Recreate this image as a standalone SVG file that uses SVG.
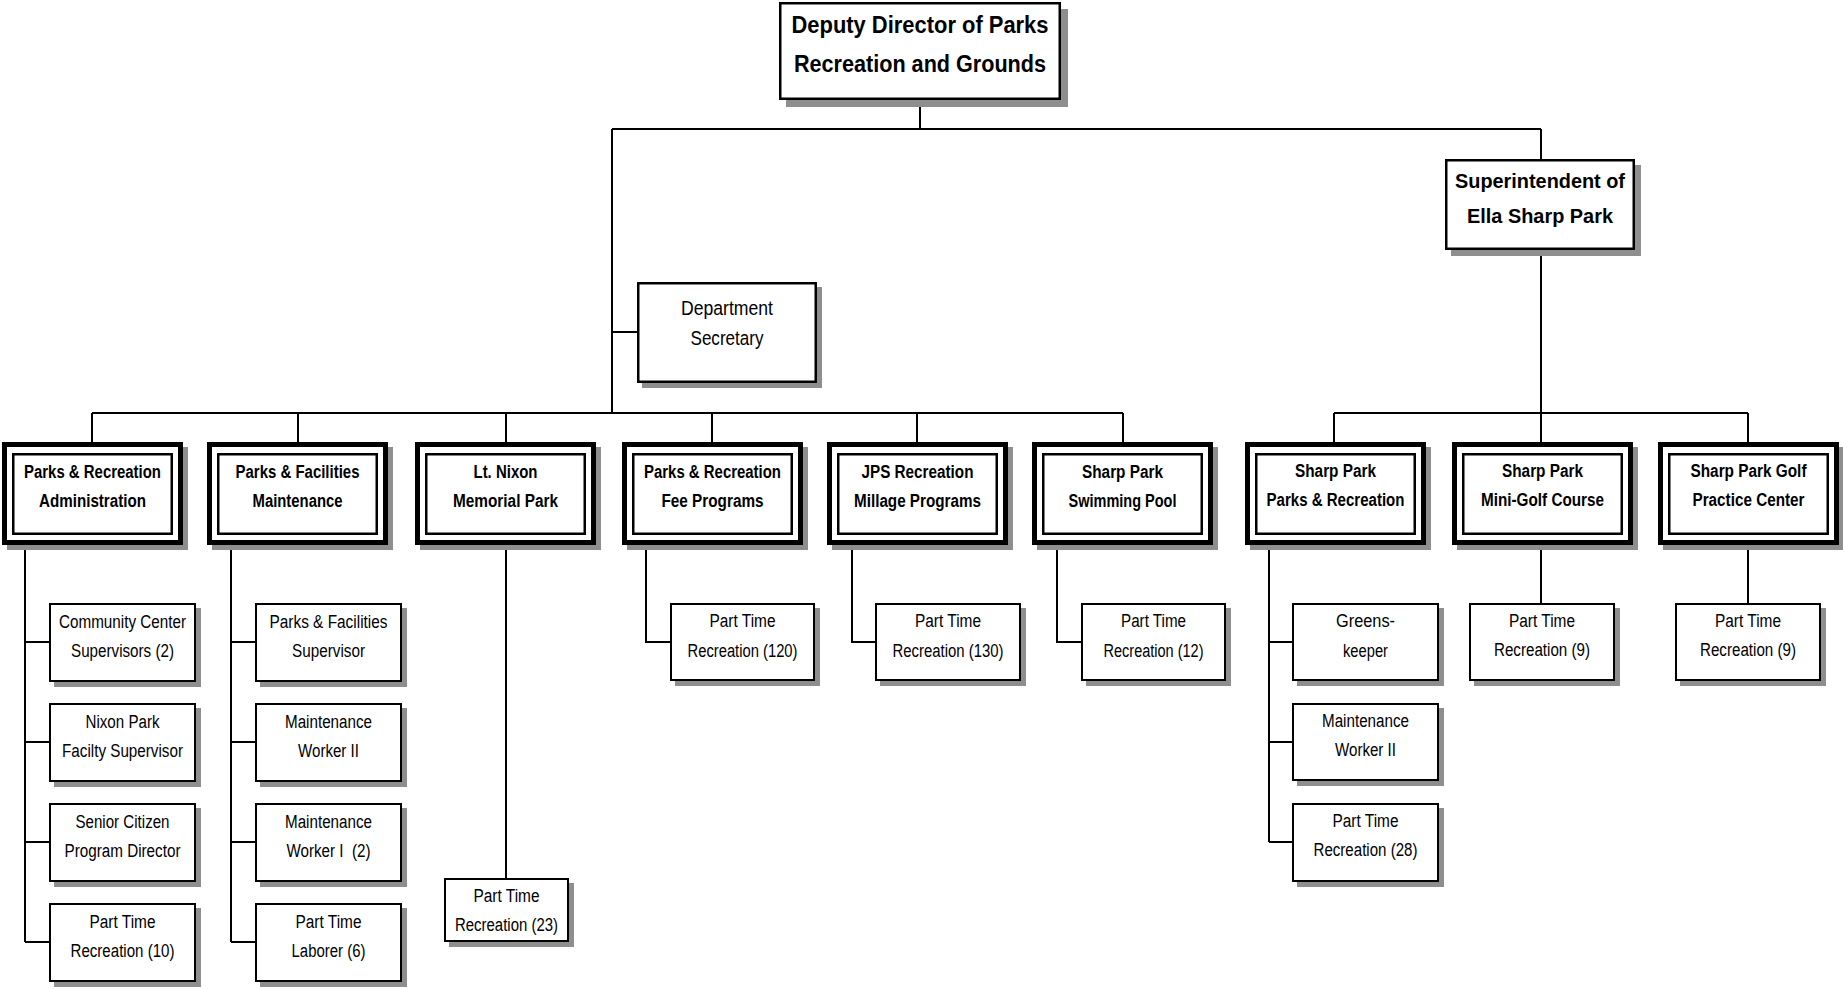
<svg xmlns="http://www.w3.org/2000/svg" width="1843" height="989" viewBox="0 0 1843 989">
<style>
.bg{fill:#fff}
.sh{fill:#8e8e8e}
.bx{fill:#fff;stroke:#000;stroke-width:2}
.bx3{fill:#fff;stroke:#000;stroke-width:2.5}
.o2{fill:#fff;stroke:#000;stroke-width:5}
.i2{fill:none;stroke:#000;stroke-width:2.5}
.c{fill:none;stroke:#000;stroke-width:2}
text{font-family:"Liberation Sans",Arial,sans-serif;text-anchor:middle;fill:#000}
.t{font-size:18px}
.tb{font-size:18px;font-weight:bold}
.th{font-size:23px;font-weight:bold}
.ts{font-size:21px;font-weight:bold}
.td{font-size:20.5px}
</style>
<rect class="bg" x="0" y="0" width="1843" height="989"/>
<g id="connectors">
<path class="c" d="M920 100V129M612 129H1541M1541 129V159M612 129V413M612 332H637"/>
<path class="c" d="M92 413H1123M92 413V442M298 413V442M506 413V442M712 413V442M917 413V442M1123 413V442"/>
<path class="c" d="M1541 250V413M1334 413H1748M1334 413V442M1541 413V442M1748 413V442"/>
<path class="c" d="M25 545V942M25 642H49M25 742H49M25 842H49M25 942H49"/>
<path class="c" d="M231 545V942M231 642H255M231 742H255M231 842H255M231 942H255"/>
<path class="c" d="M506 545V878"/>
<path class="c" d="M646 545V642H670M852 545V642H875M1057 545V642H1081"/>
<path class="c" d="M1269 545V842M1269 642H1292M1269 742H1292M1269 842H1292"/>
<path class="c" d="M1541 545V603M1748 545V603"/>
</g>
<g id="deputy">
<rect class="sh" x="786" y="9" width="282" height="98"/>
<rect class="bx3" x="780.25" y="3.25" width="279.5" height="95.5"/>
<text class="th" x="920" y="33" textLength="257" lengthAdjust="spacingAndGlyphs">Deputy Director of Parks</text>
<text class="th" x="920" y="72" textLength="252" lengthAdjust="spacingAndGlyphs">Recreation and Grounds</text>
</g>
<g id="superintendent">
<rect class="sh" x="1451" y="165" width="190" height="91"/>
<rect class="bx3" x="1446.25" y="160.25" width="187.5" height="88.5"/>
<text class="ts" x="1540" y="188" textLength="170" lengthAdjust="spacingAndGlyphs">Superintendent of</text>
<text class="ts" x="1540" y="223" textLength="146" lengthAdjust="spacingAndGlyphs">Ella Sharp Park</text>
</g>
<g id="secretary">
<rect class="sh" x="642" y="287" width="180" height="101"/>
<rect class="bx3" x="638.25" y="283.25" width="177.5" height="98.5"/>
<text class="td" x="727" y="315" textLength="92" lengthAdjust="spacingAndGlyphs">Department</text>
<text class="td" x="727" y="345" textLength="73" lengthAdjust="spacingAndGlyphs">Secretary</text>
</g>
<!-- level 2 -->
<g id="admin">
<rect class="sh" x="7" y="447" width="181" height="103"/>
<rect class="o2" x="4.5" y="444.5" width="176" height="98"/>
<rect class="i2" x="13.25" y="454.25" width="158.5" height="79.5"/>
<text class="tb" x="92.5" y="478" textLength="137" lengthAdjust="spacingAndGlyphs">Parks &amp; Recreation</text>
<text class="tb" x="92.5" y="507" textLength="107" lengthAdjust="spacingAndGlyphs">Administration</text>
</g>
<g id="maint">
<rect class="sh" x="212" y="447" width="181" height="103"/>
<rect class="o2" x="209.5" y="444.5" width="176" height="98"/>
<rect class="i2" x="218.25" y="454.25" width="158.5" height="79.5"/>
<text class="tb" x="297.5" y="478" textLength="124" lengthAdjust="spacingAndGlyphs">Parks &amp; Facilities</text>
<text class="tb" x="297.5" y="507" textLength="90" lengthAdjust="spacingAndGlyphs">Maintenance</text>
</g>
<g id="nixon">
<rect class="sh" x="420" y="447" width="181" height="103"/>
<rect class="o2" x="417.5" y="444.5" width="176" height="98"/>
<rect class="i2" x="426.25" y="454.25" width="158.5" height="79.5"/>
<text class="tb" x="505.5" y="478" textLength="64" lengthAdjust="spacingAndGlyphs">Lt. Nixon</text>
<text class="tb" x="505.5" y="507" textLength="105" lengthAdjust="spacingAndGlyphs">Memorial Park</text>
</g>
<g id="fee">
<rect class="sh" x="627" y="447" width="181" height="103"/>
<rect class="o2" x="624.5" y="444.5" width="176" height="98"/>
<rect class="i2" x="633.25" y="454.25" width="158.5" height="79.5"/>
<text class="tb" x="712.5" y="478" textLength="137" lengthAdjust="spacingAndGlyphs">Parks &amp; Recreation</text>
<text class="tb" x="712.5" y="507" textLength="102" lengthAdjust="spacingAndGlyphs">Fee Programs</text>
</g>
<g id="jps">
<rect class="sh" x="832" y="447" width="181" height="103"/>
<rect class="o2" x="829.5" y="444.5" width="176" height="98"/>
<rect class="i2" x="838.25" y="454.25" width="158.5" height="79.5"/>
<text class="tb" x="917.5" y="478" textLength="112" lengthAdjust="spacingAndGlyphs">JPS Recreation</text>
<text class="tb" x="917.5" y="507" textLength="127" lengthAdjust="spacingAndGlyphs">Millage Programs</text>
</g>
<g id="pool">
<rect class="sh" x="1037" y="447" width="181" height="103"/>
<rect class="o2" x="1034.5" y="444.5" width="176" height="98"/>
<rect class="i2" x="1043.25" y="454.25" width="158.5" height="79.5"/>
<text class="tb" x="1122.5" y="478" textLength="81" lengthAdjust="spacingAndGlyphs">Sharp Park</text>
<text class="tb" x="1122.5" y="507" textLength="108" lengthAdjust="spacingAndGlyphs">Swimming Pool</text>
</g>
<g id="sprec">
<rect class="sh" x="1250" y="447" width="181" height="103"/>
<rect class="o2" x="1247.5" y="444.5" width="176" height="98"/>
<rect class="i2" x="1256.25" y="454.25" width="158.5" height="79.5"/>
<text class="tb" x="1335.5" y="477" textLength="81" lengthAdjust="spacingAndGlyphs">Sharp Park</text>
<text class="tb" x="1335.5" y="506" textLength="138" lengthAdjust="spacingAndGlyphs">Parks &amp; Recreation</text>
</g>
<g id="minigolf">
<rect class="sh" x="1457" y="447" width="181" height="103"/>
<rect class="o2" x="1454.5" y="444.5" width="176" height="98"/>
<rect class="i2" x="1463.25" y="454.25" width="158.5" height="79.5"/>
<text class="tb" x="1542.5" y="477" textLength="81" lengthAdjust="spacingAndGlyphs">Sharp Park</text>
<text class="tb" x="1542.5" y="506" textLength="123" lengthAdjust="spacingAndGlyphs">Mini-Golf Course</text>
</g>
<g id="golf">
<rect class="sh" x="1663" y="447" width="181" height="103"/>
<rect class="o2" x="1660.5" y="444.5" width="176" height="98"/>
<rect class="i2" x="1669.25" y="454.25" width="158.5" height="79.5"/>
<text class="tb" x="1748.5" y="477" textLength="116" lengthAdjust="spacingAndGlyphs">Sharp Park Golf</text>
<text class="tb" x="1748.5" y="506" textLength="112" lengthAdjust="spacingAndGlyphs">Practice Center</text>
</g>
<!-- level 3: admin column -->
<g id="community">
<rect class="sh" x="54" y="608" width="147" height="79"/>
<rect class="bx" x="50" y="604" width="145" height="77"/>
<text class="t" x="122.5" y="628" textLength="127" lengthAdjust="spacingAndGlyphs">Community Center</text>
<text class="t" x="122.5" y="657" textLength="103" lengthAdjust="spacingAndGlyphs">Supervisors (2)</text>
</g>
<g id="nixonsup">
<rect class="sh" x="54" y="708" width="147" height="79"/>
<rect class="bx" x="50" y="704" width="145" height="77"/>
<text class="t" x="122.5" y="728" textLength="74" lengthAdjust="spacingAndGlyphs">Nixon Park</text>
<text class="t" x="122.5" y="757" textLength="121" lengthAdjust="spacingAndGlyphs">Facilty Supervisor</text>
</g>
<g id="senior">
<rect class="sh" x="54" y="808" width="147" height="79"/>
<rect class="bx" x="50" y="804" width="145" height="77"/>
<text class="t" x="122.5" y="828" textLength="94" lengthAdjust="spacingAndGlyphs">Senior Citizen</text>
<text class="t" x="122.5" y="857" textLength="116" lengthAdjust="spacingAndGlyphs">Program Director</text>
</g>
<g id="pt10">
<rect class="sh" x="54" y="908" width="147" height="79"/>
<rect class="bx" x="50" y="904" width="145" height="77"/>
<text class="t" x="122.5" y="928" textLength="66" lengthAdjust="spacingAndGlyphs">Part Time</text>
<text class="t" x="122.5" y="957" textLength="104" lengthAdjust="spacingAndGlyphs">Recreation (10)</text>
</g>
<!-- maintenance column -->
<g id="pfsup">
<rect class="sh" x="260" y="608" width="147" height="79"/>
<rect class="bx" x="256" y="604" width="145" height="77"/>
<text class="t" x="328.5" y="628" textLength="118" lengthAdjust="spacingAndGlyphs">Parks &amp; Facilities</text>
<text class="t" x="328.5" y="657" textLength="73" lengthAdjust="spacingAndGlyphs">Supervisor</text>
</g>
<g id="mw2">
<rect class="sh" x="260" y="708" width="147" height="79"/>
<rect class="bx" x="256" y="704" width="145" height="77"/>
<text class="t" x="328.5" y="728" textLength="87" lengthAdjust="spacingAndGlyphs">Maintenance</text>
<text class="t" x="328.5" y="757" textLength="61" lengthAdjust="spacingAndGlyphs">Worker II</text>
</g>
<g id="mw1">
<rect class="sh" x="260" y="808" width="147" height="79"/>
<rect class="bx" x="256" y="804" width="145" height="77"/>
<text class="t" x="328.5" y="828" textLength="87" lengthAdjust="spacingAndGlyphs">Maintenance</text>
<text class="t" x="328.5" y="857" textLength="84" lengthAdjust="spacingAndGlyphs" xml:space="preserve">Worker I  (2)</text>
</g>
<g id="laborer">
<rect class="sh" x="260" y="908" width="147" height="79"/>
<rect class="bx" x="256" y="904" width="145" height="77"/>
<text class="t" x="328.5" y="928" textLength="66" lengthAdjust="spacingAndGlyphs">Part Time</text>
<text class="t" x="328.5" y="957" textLength="74" lengthAdjust="spacingAndGlyphs">Laborer (6)</text>
</g>
<g id="pt23">
<rect class="sh" x="449" y="883" width="125" height="64"/>
<rect class="bx" x="445" y="879" width="123" height="62"/>
<text class="t" x="506.5" y="902" textLength="66" lengthAdjust="spacingAndGlyphs">Part Time</text>
<text class="t" x="506.5" y="931" textLength="103" lengthAdjust="spacingAndGlyphs">Recreation (23)</text>
</g>
<g id="pt120">
<rect class="sh" x="675" y="608" width="145" height="78"/>
<rect class="bx" x="671" y="604" width="143" height="76"/>
<text class="t" x="742.5" y="627" textLength="66" lengthAdjust="spacingAndGlyphs">Part Time</text>
<text class="t" x="742.5" y="657" textLength="110" lengthAdjust="spacingAndGlyphs">Recreation (120)</text>
</g>
<g id="pt130">
<rect class="sh" x="880" y="608" width="146" height="78"/>
<rect class="bx" x="876" y="604" width="144" height="76"/>
<text class="t" x="948" y="627" textLength="66" lengthAdjust="spacingAndGlyphs">Part Time</text>
<text class="t" x="948" y="657" textLength="111" lengthAdjust="spacingAndGlyphs">Recreation (130)</text>
</g>
<g id="pt12">
<rect class="sh" x="1086" y="608" width="145" height="78"/>
<rect class="bx" x="1082" y="604" width="143" height="76"/>
<text class="t" x="1153.5" y="627" textLength="65" lengthAdjust="spacingAndGlyphs">Part Time</text>
<text class="t" x="1153.5" y="657" textLength="100" lengthAdjust="spacingAndGlyphs">Recreation (12)</text>
</g>
<!-- sharp park column -->
<g id="greens">
<rect class="sh" x="1297" y="608" width="147" height="78"/>
<rect class="bx" x="1293" y="604" width="145" height="76"/>
<text class="t" x="1365.5" y="627" textLength="59" lengthAdjust="spacingAndGlyphs">Greens-</text>
<text class="t" x="1365.5" y="657" textLength="45" lengthAdjust="spacingAndGlyphs">keeper</text>
</g>
<g id="spmw2">
<rect class="sh" x="1297" y="708" width="147" height="78"/>
<rect class="bx" x="1293" y="704" width="145" height="76"/>
<text class="t" x="1365.5" y="727" textLength="87" lengthAdjust="spacingAndGlyphs">Maintenance</text>
<text class="t" x="1365.5" y="756" textLength="61" lengthAdjust="spacingAndGlyphs">Worker II</text>
</g>
<g id="pt28">
<rect class="sh" x="1297" y="808" width="147" height="79"/>
<rect class="bx" x="1293" y="804" width="145" height="77"/>
<text class="t" x="1365.5" y="827" textLength="66" lengthAdjust="spacingAndGlyphs">Part Time</text>
<text class="t" x="1365.5" y="856" textLength="104" lengthAdjust="spacingAndGlyphs">Recreation (28)</text>
</g>
<g id="pt9a">
<rect class="sh" x="1474" y="608" width="146" height="78"/>
<rect class="bx" x="1470" y="604" width="144" height="76"/>
<text class="t" x="1542" y="627" textLength="66" lengthAdjust="spacingAndGlyphs">Part Time</text>
<text class="t" x="1542" y="656" textLength="96" lengthAdjust="spacingAndGlyphs">Recreation (9)</text>
</g>
<g id="pt9b">
<rect class="sh" x="1680" y="608" width="146" height="78"/>
<rect class="bx" x="1676" y="604" width="144" height="76"/>
<text class="t" x="1748" y="627" textLength="66" lengthAdjust="spacingAndGlyphs">Part Time</text>
<text class="t" x="1748" y="656" textLength="96" lengthAdjust="spacingAndGlyphs">Recreation (9)</text>
</g>
</svg>
